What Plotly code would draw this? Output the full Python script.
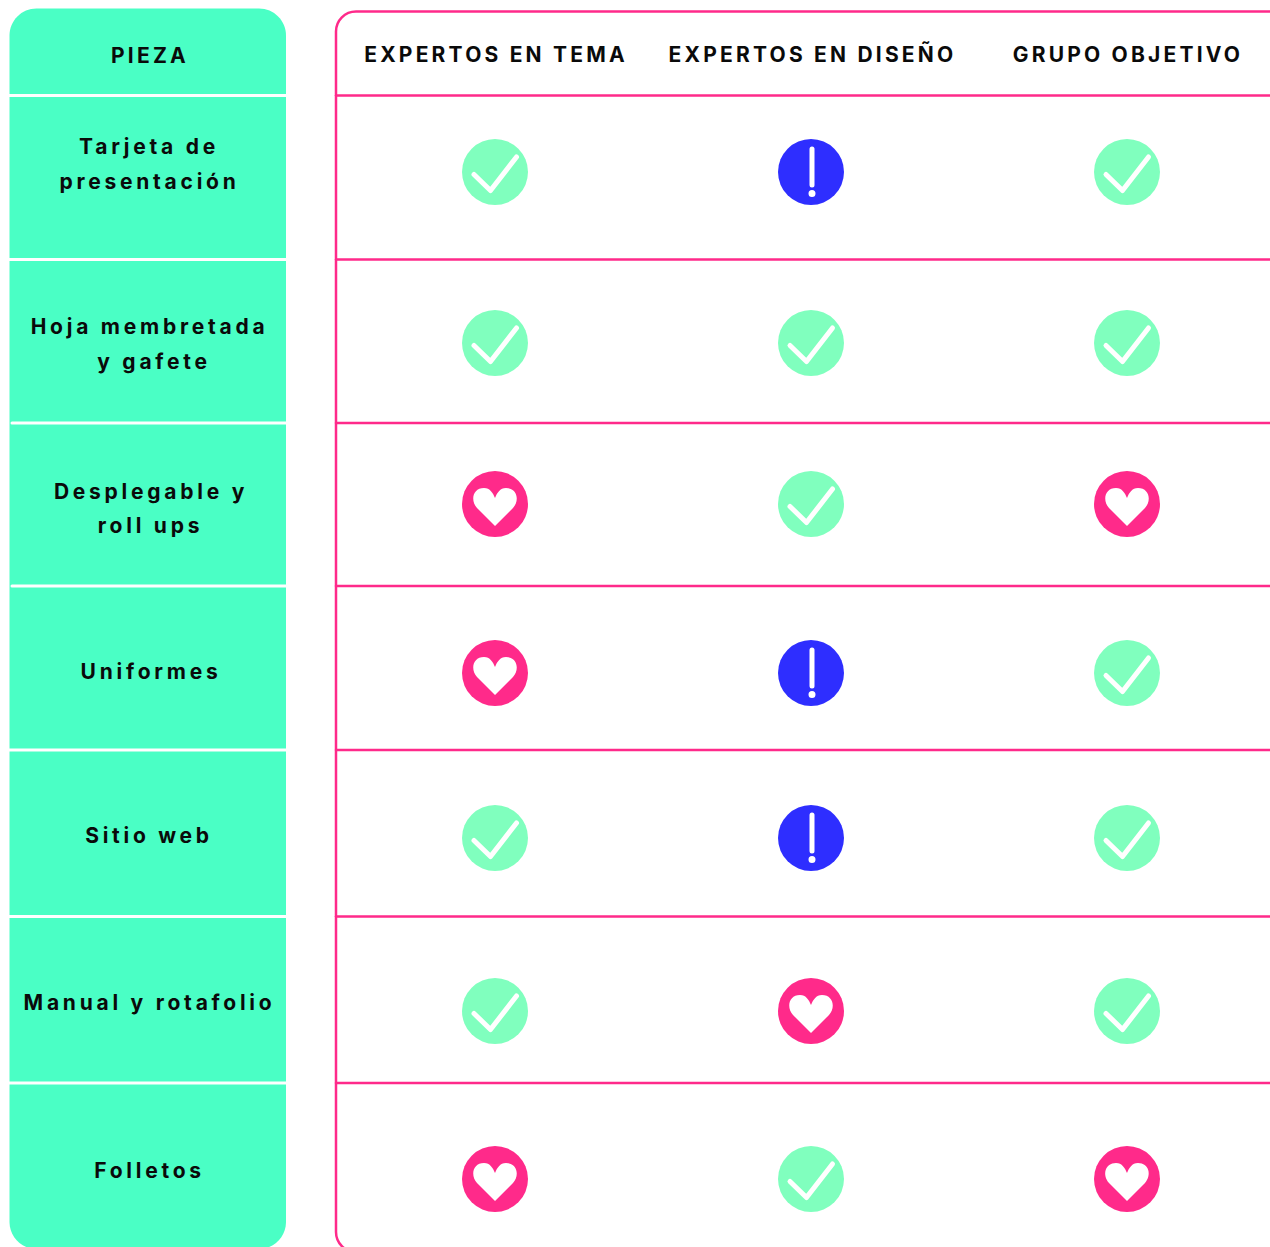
import plotly.graph_objects as go

# ---------- data ----------
column_headers = ["EXPERTOS EN TEMA", "EXPERTOS EN DISEÑO", "GRUPO OBJETIVO"]
row_header = "PIEZA"
row_labels = [
    ["Tarjeta de", "presentación"],
    ["Hoja membretada", "y gafete"],
    ["Desplegable y", "roll ups"],
    ["Uniformes"],
    ["Sitio web"],
    ["Manual y rotafolio"],
    ["Folletos"],
]
expertos_tema = ["ok", "ok", "love", "love", "ok", "ok", "love"]
expertos_diseno = ["alert", "ok", "ok", "alert", "alert", "love", "ok"]
grupo_objetivo = ["ok", "ok", "love", "ok", "ok", "ok", "love"]

# ---------- layout constants ----------
W, H = 1270, 1247
GREEN, PINK, BLUE, MINT = "#4AFFC5", "#FF2A8A", "#2E2EFF", "#80FFBE"
INK = "#0A0A0A"
FONT = "Inter"
col_x = [495, 811, 1127]
col_text_x = [496, 812.5, 1128]
row_y = [172, 343, 504, 673, 838, 1011, 1179]
dividers = [95.5, 259.5, 423, 586, 750, 916.5, 1083]
divider_start = [9, 9, 12, 12, 9, 9, 9]
label_y = [[148.5, 183.5], [328.5, 363.5], [493.5, 527.5], [673.5], [837.5], [1004.5], [1172.5]]
label_x = [[149, 149.5], [149.5, 154], [151, 150.5], [151], [149], [149.5], [149.5]]
colors = {"ok": MINT, "love": PINK, "alert": BLUE}
series = [expertos_tema, expertos_diseno, grupo_objetivo]
K = 0.5523


def rounded(x0, y0, x1, y1, r):
    c = r * (1 - K)
    return (f"M{x0+r},{y0} L{x1-r},{y0} C{x1-c},{y0} {x1},{y0+c} {x1},{y0+r} L{x1},{y1-r} "
            f"C{x1},{y1-c} {x1-c},{y1} {x1-r},{y1} L{x0+r},{y1} C{x0+c},{y1} {x0},{y1-c} {x0},{y1-r} "
            f"L{x0},{y0+r} C{x0},{y0+c} {x0+c},{y0} {x0+r},{y0} Z")


def open_frame(x0, y0, x1, y1, r):
    c = r * (1 - K)
    return (f"M{x1},{y0} L{x0+r},{y0} C{x0+c},{y0} {x0},{y0+c} {x0},{y0+r} "
            f"L{x0},{y1-r} C{x0},{y1-c} {x0+c},{y1} {x0+r},{y1} L{x1},{y1}")


def glyph(kind, cx, cy):
    def p(dx, dy):
        return f"{cx+dx},{cy+dy}"
    if kind == "ok":
        path = f"M{p(-21,2.5)} L{p(-4.5,18.5)} L{p(21.5,-15)}"
        return [dict(type="path", path=path, line=dict(color="white", width=5),
                     fillcolor="rgba(0,0,0,0)", xref="x", yref="y")]
    if kind == "love":
        path = (f"M{p(0,22)} L{p(-18,4)} C{p(-25,-4)} {p(-22,-16)} {p(-11,-16)} "
                f"C{p(-5,-16)} {p(-2,-11)} {p(0,-6)} C{p(2,-11)} {p(5,-16)} {p(11,-16)} "
                f"C{p(22,-16)} {p(25,-4)} {p(18,4)} Z")
        return [dict(type="path", path=path, fillcolor="white", line=dict(width=0),
                     xref="x", yref="y")]
    return [
        dict(type="path", path=f"M{p(1,-23)} L{p(1,13)}",
             line=dict(color="white", width=5), xref="x", yref="y"),
        dict(type="circle", x0=cx - 2.5, x1=cx + 4.5, y0=cy + 18, y1=cy + 25,
             fillcolor="white", line=dict(width=0), xref="x", yref="y"),
    ]


shapes = [
    dict(type="path", path=rounded(9.5, 8.5, 286, 1249, 27), fillcolor=GREEN,
         line=dict(width=0), xref="x", yref="y", layer="below"),
    dict(type="path", path=open_frame(336, 11.5, 1275, 1252, 20),
         fillcolor="rgba(0,0,0,0)", line=dict(color=PINK, width=2.5),
         xref="x", yref="y", layer="below"),
]
for d, start in zip(dividers, divider_start):
    shapes.append(dict(type="line", x0=start, x1=286.5, y0=d, y1=d, xref="x", yref="y",
                       line=dict(color="white", width=3), layer="below"))
    shapes.append(dict(type="line", x0=336, x1=1275, y0=d, y1=d, xref="x", yref="y",
                       line=dict(color=PINK, width=2.5), layer="below"))

fig = go.Figure()
for col, statuses in zip(col_x, series):
    fig.add_trace(go.Scatter(
        x=[col] * len(statuses), y=row_y, mode="markers", hoverinfo="skip",
        marker=dict(size=66, color=[colors[s] for s in statuses], line=dict(width=0)),
    ))
    for s, y in zip(statuses, row_y):
        shapes.extend(glyph(s, col, y))

text_font = dict(family=FONT, size=21, color=INK, weight=700)
fig.add_trace(go.Scatter(
    x=col_text_x + [150], y=[56.5, 56.5, 56.5, 57.5],
    text=column_headers + [row_header], mode="text", textposition="middle center",
    textfont=text_font, hoverinfo="skip",
))
lx, ly, lt = [], [], []
for lines, ys, xs in zip(row_labels, label_y, label_x):
    for t, y, x in zip(lines, ys, xs):
        lx.append(x), ly.append(y), lt.append(t)
fig.add_trace(go.Scatter(
    x=lx, y=ly, text=lt, mode="text", textposition="middle center",
    textfont=text_font, hoverinfo="skip",
))

fig.update_layout(
    width=W, height=H, margin=dict(l=0, r=0, t=0, b=0), showlegend=False,
    paper_bgcolor="white", plot_bgcolor="white", shapes=shapes,
    xaxis=dict(range=[0, W], visible=False, fixedrange=True),
    yaxis=dict(range=[H, 0], visible=False, fixedrange=True),
)
css = ("var s=document.createElement('style');"
       "s.textContent='body{margin:0;overflow:hidden}"
       " .scatterlayer .trace:nth-child(4) .textpoint text{letter-spacing:3.2px}"
       " .scatterlayer .trace:nth-child(5) .textpoint text{letter-spacing:3.75px}"
       " .shapelayer path{stroke-linecap:round;stroke-linejoin:round}';"
       "document.head.appendChild(s);")
fig.write_html("out.html", config={"displayModeBar": False}, post_script=css)
